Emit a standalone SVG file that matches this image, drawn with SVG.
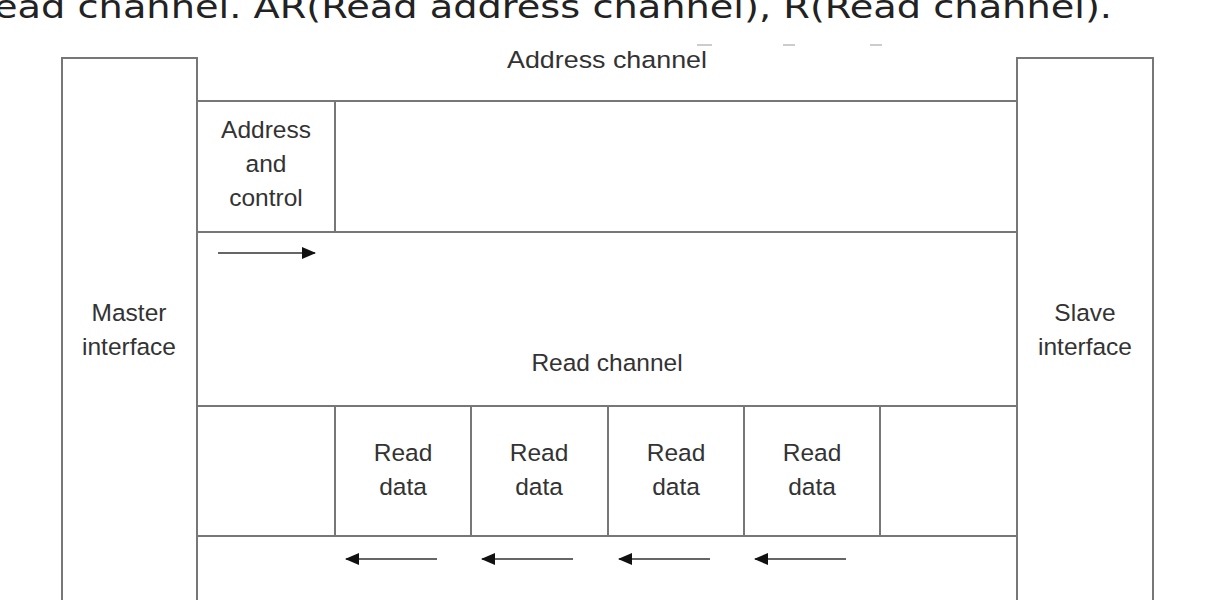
<svg xmlns="http://www.w3.org/2000/svg" width="1224" height="600" viewBox="0 0 1224 600">
<style>
.l{stroke:#777;stroke-width:2;fill:none}
.t{font-family:"Liberation Sans",Arial,sans-serif;font-size:24.5px;fill:#333;text-anchor:middle}
.a{stroke:#333;stroke-width:1.6}
</style>
<defs>
<marker id="ahb" markerWidth="14" markerHeight="14" refX="13" refY="7" orient="auto" markerUnits="userSpaceOnUse" viewBox="0 0 14 14"><path d="M0,1L14,7L0,13z" fill="#111"/></marker>
</defs>
<rect width="1224" height="600" fill="#fff"/>
<text x="-6" y="18" textLength="1118" lengthAdjust="spacingAndGlyphs" style="font-family:'DejaVu Sans',Verdana,sans-serif;font-size:32px;fill:#222">ead channel. AR(Read address channel), R(Read channel).</text>
<g stroke="#ccc" stroke-width="2"><line x1="697" y1="45" x2="712" y2="45"/><line x1="783" y1="45" x2="795" y2="45"/><line x1="870" y1="45" x2="882" y2="45"/></g>
<g id="master"><path class="l" d="M62,600V58H197V600"/><text class="t" x="129" y="321">Master</text><text class="t" x="129" y="355">interface</text></g>
<g id="slave"><path class="l" d="M1017,600V58H1153V600"/><text class="t" x="1085" y="321">Slave</text><text class="t" x="1085" y="355">interface</text></g>
<g id="address-channel"><text class="t" x="607" y="68" textLength="200" lengthAdjust="spacingAndGlyphs">Address channel</text><line class="l" x1="197" y1="101" x2="1017" y2="101"/><line class="l" x1="197" y1="232" x2="1017" y2="232"/></g>
<g id="addr-ctrl"><line class="l" x1="335" y1="101" x2="335" y2="232"/><text class="t" x="266" y="138">Address</text><text class="t" x="266" y="172">and</text><text class="t" x="266" y="206">control</text></g>
<g id="read-channel"><text class="t" x="607" y="371">Read channel</text><line class="l" x1="197" y1="406" x2="1017" y2="406"/><line class="l" x1="197" y1="536" x2="1017" y2="536"/>
<g class="l"><line x1="335" y1="406" x2="335" y2="536"/><line x1="471" y1="406" x2="471" y2="536"/><line x1="608" y1="406" x2="608" y2="536"/><line x1="744" y1="406" x2="744" y2="536"/><line x1="880" y1="406" x2="880" y2="536"/></g></g>
<g id="rd1"><text class="t" x="403" y="461">Read</text><text class="t" x="403" y="495">data</text></g>
<g id="rd2"><text class="t" x="539" y="461">Read</text><text class="t" x="539" y="495">data</text></g>
<g id="rd3"><text class="t" x="676" y="461">Read</text><text class="t" x="676" y="495">data</text></g>
<g id="rd4"><text class="t" x="812" y="461">Read</text><text class="t" x="812" y="495">data</text></g>
<g id="connectors">
<line class="a" x1="218" y1="253" x2="315" y2="253" marker-end="url(#ahb)"/>
<line class="a" x1="437" y1="559" x2="346" y2="559" marker-end="url(#ahb)"/>
<line class="a" x1="573" y1="559" x2="482" y2="559" marker-end="url(#ahb)"/>
<line class="a" x1="710" y1="559" x2="619" y2="559" marker-end="url(#ahb)"/>
<line class="a" x1="846" y1="559" x2="755" y2="559" marker-end="url(#ahb)"/>
</g>
</svg>
